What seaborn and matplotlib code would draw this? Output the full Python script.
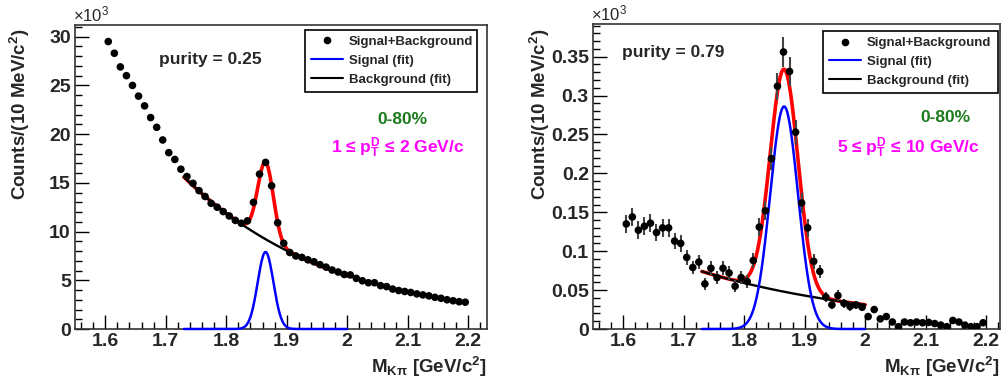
import numpy as np
import matplotlib
matplotlib.use("Agg")
import matplotlib.pyplot as plt
import seaborn as sns
from matplotlib.ticker import MultipleLocator, FuncFormatter
from matplotlib.lines import Line2D

# bin centres, 10 MeV bins (GeV/c^2)
mass = [1.605, 1.615, 1.625, 1.635, 1.645, 1.655, 1.665, 1.675, 1.685, 1.695,
        1.705, 1.715, 1.725, 1.735, 1.745, 1.755, 1.765, 1.775, 1.785, 1.795,
        1.805, 1.815, 1.825, 1.835, 1.845, 1.855, 1.865, 1.875, 1.885, 1.895,
        1.905, 1.915, 1.925, 1.935, 1.945, 1.955, 1.965, 1.975, 1.985, 1.995,
        2.005, 2.015, 2.025, 2.035, 2.045, 2.055, 2.065, 2.075, 2.085, 2.095,
        2.105, 2.115, 2.125, 2.135, 2.145, 2.155, 2.165, 2.175, 2.185, 2.195]

# counts in units of 10^3, 1 < pT < 2 GeV/c
counts_low = [29.5, 28.3, 26.9, 26.0, 25.0, 23.9, 22.9, 21.7, 20.7, 19.4,
              18.1, 17.4, 16.4, 15.65, 14.95, 14.2, 13.6, 12.9, 12.5, 12.05,
              11.6, 11.15, 10.85, 11.1, 13.0, 15.9, 17.1, 14.7, 10.9, 8.8,
              7.85, 7.5, 7.35, 7.1, 6.9, 6.6, 6.35, 6.05, 5.85, 5.6,
              5.55, 5.2, 4.95, 4.75, 4.75, 4.45, 4.35, 4.1, 3.95, 3.85,
              3.75, 3.6, 3.5, 3.4, 3.25, 3.15, 3.0, 2.9, 2.8, 2.75]

# counts in units of 10^3, 5 < pT < 10 GeV/c
counts_high = [0.135, 0.144, 0.127, 0.132, 0.136, 0.124, 0.130, 0.130, 0.113, 0.110,
               0.092, 0.079, 0.086, 0.058, 0.078, 0.066, 0.078, 0.072, 0.055, 0.066,
               0.061, 0.088, 0.131, 0.152, 0.219, 0.312, 0.356, 0.331, 0.253, 0.162,
               0.130, 0.087, 0.074, 0.041, 0.031, 0.043, 0.033, 0.029, 0.031, 0.028,
               0.016, 0.025, 0.013, 0.016, 0.009, 0.003, 0.009, 0.008, 0.009, 0.008,
               0.0085, 0.007, 0.005, 0.003, 0.011, 0.009, 0.005, 0.003, 0.003, 0.008]

# fit range and fit parameters (expo background + gaussian signal)
fit_range = (1.73, 2.0)
fit_low = dict(bkg_amp=15.6, bkg_slope=3.9, sig_amp=7.9, sig_mean=1.865, sig_width=0.013)
fit_high = dict(bkg_amp=0.074, bkg_slope=3.2, sig_amp=0.286, sig_mean=1.866, sig_width=0.023)

sns.set_theme(style="white")
plt.rcParams['font.family'] = ['Liberation Sans', 'DejaVu Sans']
plt.rcParams['mathtext.default'] = 'regular'
plt.rcParams['axes.edgecolor'] = '#333333'
plt.rcParams['axes.linewidth'] = 1.2

fig = plt.figure(figsize=(10.06, 3.87), dpi=100)
ax1 = fig.add_axes([75 / 1006, 58 / 387, 412 / 1006, 304 / 387])
ax2 = fig.add_axes([593 / 1006, 58 / 387, 407 / 1006, 305 / 387])


def draw_panel(ax, counts, fit, ylim, ymajor, yminor, purity, ptbin, pos):
    x = np.array(mass)
    y = np.array(counts)
    err = np.sqrt(y * 1000) / 1000

    xf = np.linspace(fit_range[0], fit_range[1], 400)
    bkg = fit['bkg_amp'] * np.exp(-fit['bkg_slope'] * (xf - fit_range[0]))
    sig = fit['sig_amp'] * np.exp(-0.5 * ((xf - fit['sig_mean']) / fit['sig_width']) ** 2)

    sns.lineplot(x=xf, y=bkg + sig, ax=ax, color='#ff0000', lw=2.6, zorder=3)
    sns.lineplot(x=xf, y=bkg, ax=ax, color='black', lw=1.7, zorder=4)
    sns.lineplot(x=xf, y=sig, ax=ax, color='#0000ff', lw=1.8, zorder=4)
    for line in ax.lines:
        line.set_clip_on(False)

    ax.errorbar(x, y, yerr=err, fmt='none', ecolor='#444444', elinewidth=1.5, zorder=5)
    sns.scatterplot(x=x, y=y, ax=ax, color='black', s=30, edgecolor='none', zorder=6)

    ax.set_xlim(1.55, pos['xmax'])
    ax.set_ylim(0, ylim)
    ax.xaxis.set_major_locator(MultipleLocator(0.1))
    ax.xaxis.set_minor_locator(MultipleLocator(0.02))
    ax.yaxis.set_major_locator(MultipleLocator(ymajor))
    ax.yaxis.set_minor_locator(MultipleLocator(yminor))
    ax.xaxis.set_major_formatter(FuncFormatter(lambda v, p: f"{v:.10g}"))
    ax.yaxis.set_major_formatter(FuncFormatter(lambda v, p: f"{round(v, 6):.10g}"))
    ax.tick_params(which='both', direction='in', top=False, right=False,
                   left=True, bottom=True, color='black', labelsize=14, pad=3)
    ax.tick_params(which='major', length=10, width=1)
    ax.tick_params(which='minor', length=5, width=1)
    for lab in ax.get_xticklabels() + ax.get_yticklabels():
        lab.set_fontweight('bold')
    ax.set_xlabel('')
    ax.set_ylabel('')

    ax.text(-0.005, 1.003, '×10$^{3}$', transform=ax.transAxes, fontsize=12,
            ha='left', va='bottom')
    ax.text(pos['pur'][0], pos['pur'][1], f'purity = {purity}', transform=ax.transAxes,
            fontsize=12.5, fontweight='bold', ha='center', va='center')
    ax.text(pos['cent'][0], pos['cent'][1], '0-80%', transform=ax.transAxes,
            fontsize=12.5, fontweight='bold', color='#1b7a1b', ha='center', va='center')
    ax.text(pos['pt'][0], pos['pt'][1], ptbin, transform=ax.transAxes,
            fontsize=12.5, fontweight='bold', color='#ff00ff', ha='center', va='baseline')

    handles = [Line2D([], [], marker='o', color='black', ls='none', markersize=4.5),
               Line2D([], [], color='#0000ff', lw=1.5),
               Line2D([], [], color='black', lw=1.5)]
    leg = ax.legend(handles, ['Signal+Background', 'Signal (fit)', 'Background (fit)'],
                    loc='upper left', bbox_to_anchor=pos['leg'], mode='expand',
                    borderaxespad=0, fancybox=False, framealpha=1, edgecolor='black',
                    prop={'weight': 'bold', 'size': 9.5}, handlelength=2.4,
                    handletextpad=0.5, labelspacing=0.5, borderpad=0.45)
    leg.get_frame().set_linewidth(1.2)

    ax.text(1.0, -0.085, 'M$_{Kπ}$ [GeV/c$^{2}$]', transform=ax.transAxes,
            fontsize=13.5, fontweight='bold', ha='right', va='top')


draw_panel(ax1, counts_low, fit_low, 31.2, 5, 1, '0.25',
           '1 ≤ p$_{T}^{D}$ ≤ 2 GeV/c',
           dict(xmax=2.231, pur=(0.328, 0.885), cent=(0.794, 0.6875), pt=(0.784, 0.579),
                leg=(0.558, 0.984, 0.418, 0.0)))
draw_panel(ax2, counts_high, fit_high, 0.392, 0.05, 0.01, '0.79',
           '5 ≤ p$_{T}^{D}$ ≤ 10 GeV/c',
           dict(xmax=2.223, pur=(0.198, 0.908), cent=(0.865, 0.692), pt=(0.776, 0.577),
                leg=(0.565, 0.977, 0.430, 0.0)))

for xc in (20, 540):
    fig.text(xc / 1006, 1 - 28 / 387, 'Counts/(10 MeV/c$^{2}$)', rotation=90,
             fontsize=13.5, fontweight='bold', ha='center', va='top')

fig.savefig('out.png', dpi=100)
